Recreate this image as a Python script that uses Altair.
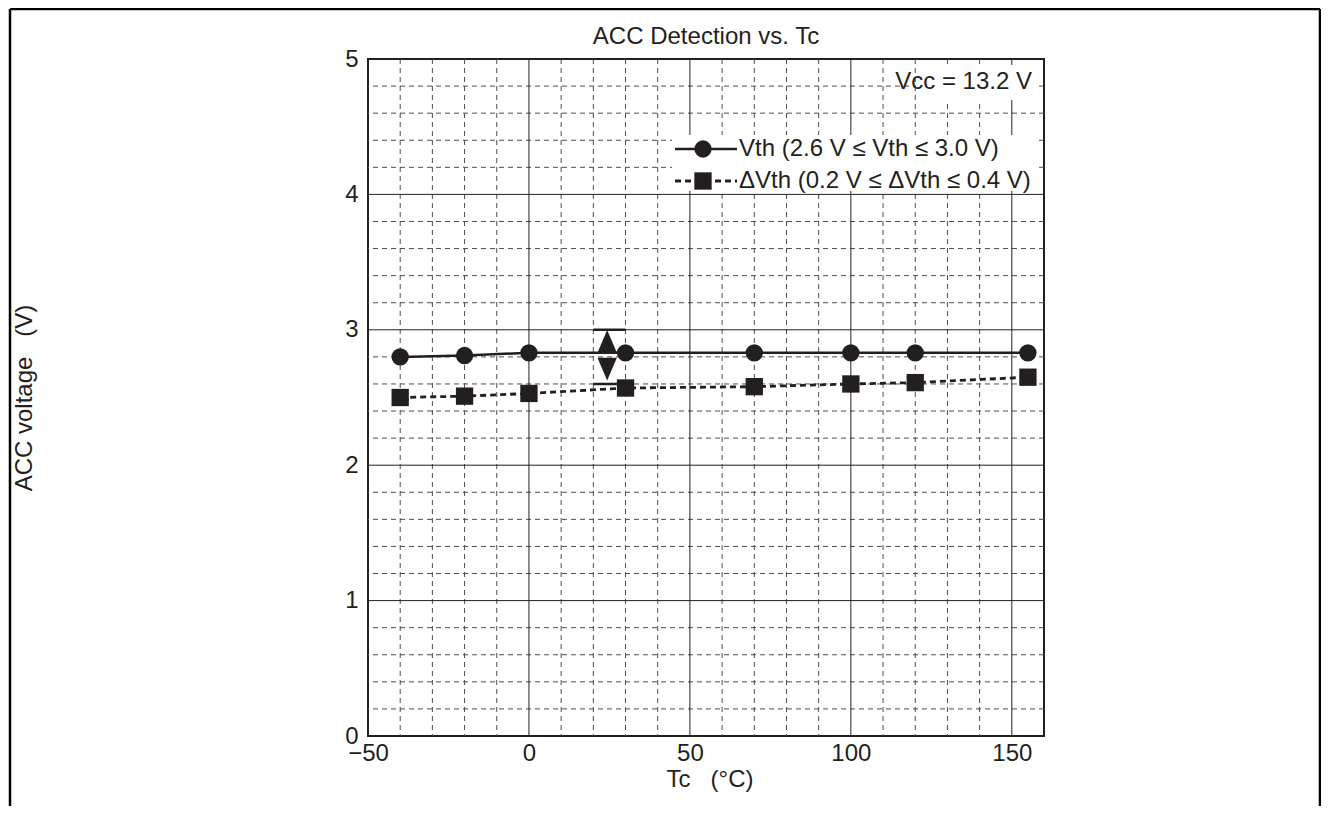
import altair as alt
import pandas as pd

# ---- data ----
tc_vth = [-40, -20, 0, 30, 70, 100, 120, 155]
vth = [2.80, 2.81, 2.83, 2.83, 2.83, 2.83, 2.83, 2.83]
tc_dvth = [-40, -20, 0, 30, 70, 100, 120, 155]
dvth = [2.50, 2.51, 2.53, 2.57, 2.58, 2.60, 2.61, 2.65]

x_ticks = [-50, 0, 50, 100, 150]
y_ticks = [0, 1, 2, 3, 4, 5]
x_major_grid = [0, 50, 100, 150]
x_minor_grid = [-40, -30, -20, -10, 10, 20, 30, 40, 60, 70, 80, 90, 110, 120, 130, 140]
y_major_grid = [1, 2, 3, 4]
y_minor_grid = [0.2, 0.4, 0.6, 0.8, 1.2, 1.4, 1.6, 1.8, 2.2, 2.4, 2.6, 2.8,
                3.2, 3.4, 3.6, 3.8, 4.2, 4.4, 4.6, 4.8]

bracket_x = [20, 30]
bracket_y = [3.0, 2.6]
arrow_x = [24.3, 24.3]
arrow_y = [2.915, 2.71]
arrow_dir = ["up", "down"]

FONT = "Liberation Sans"
INK = "#231f20"
W, H = 676, 677

xs = alt.Scale(domain=[-50, 160], nice=False, zero=False)
ys = alt.Scale(domain=[0, 5], nice=False, zero=False)

X_AX = alt.Axis(values=x_ticks, title=None, ticks=False, domain=False,
                grid=False, labelFont=FONT, labelFontSize=24, labelColor=INK,
                labelPadding=5, labelFlush=False)
Y_AX = alt.Axis(values=y_ticks, title=None, ticks=False, domain=False,
                grid=False, labelFont=FONT, labelFontSize=24, labelColor=INK,
                labelPadding=10, labelFlush=False)


def X(field):
    return alt.X(field, scale=xs, axis=X_AX)


def Y(field):
    return alt.Y(field, scale=ys, axis=Y_AX)


one = pd.DataFrame({"d": [0]})

# grid
g_xmin = alt.Chart(pd.DataFrame({"x": x_minor_grid})).mark_rule(
    stroke="#4d4d4d", strokeWidth=1, strokeDash=[5, 4]).encode(x=X("x:Q"))
g_ymin = alt.Chart(pd.DataFrame({"y": y_minor_grid})).mark_rule(
    stroke="#4d4d4d", strokeWidth=1, strokeDash=[5, 4]).encode(y=Y("y:Q"))
g_xmaj = alt.Chart(pd.DataFrame({"x": x_major_grid})).mark_rule(
    stroke=INK, strokeWidth=1).encode(x=X("x:Q"))
g_ymaj = alt.Chart(pd.DataFrame({"y": y_major_grid})).mark_rule(
    stroke=INK, strokeWidth=1).encode(y=Y("y:Q"))

# white boxes behind legend / note
box_leg = alt.Chart(one).mark_rect(fill="white").encode(
    x=alt.value(304), x2=alt.value(671), y=alt.value(76), y2=alt.value(132))
box_vcc = alt.Chart(one).mark_rect(fill="white").encode(
    x=alt.value(548), x2=alt.value(669), y=alt.value(6), y2=alt.value(41))

df_v = pd.DataFrame({"tc": tc_vth, "v": vth})
df_d = pd.DataFrame({"tc": tc_dvth, "v": dvth})

line_v = alt.Chart(df_v).mark_line(color=INK, strokeWidth=2.5).encode(
    x=X("tc:Q"), y=Y("v:Q"))
pts_v = alt.Chart(df_v).mark_point(shape="circle", filled=True, fill=INK,
                                   size=300, opacity=1).encode(
    x=X("tc:Q"), y=Y("v:Q"))

line_d = alt.Chart(df_d).mark_line(color=INK, strokeWidth=2.8,
                                   strokeDash=[6, 4]).encode(
    x=X("tc:Q"), y=Y("v:Q"))
pts_d = alt.Chart(df_d).mark_point(shape="square", filled=True, fill=INK,
                                   size=300, opacity=1).encode(
    x=X("tc:Q"), y=Y("v:Q"))

# annotation: bracket with double arrow
df_br = pd.DataFrame({"x1": [bracket_x[0]] * 2, "x2": [bracket_x[1]] * 2,
                      "y": bracket_y})
bars = alt.Chart(df_br).mark_rule(stroke=INK, strokeWidth=2.5).encode(
    x=X("x1:Q"), x2="x2:Q", y=Y("y:Q"))
df_ar = pd.DataFrame({"x": arrow_x, "y": arrow_y, "dir": arrow_dir})
tri_up = alt.Chart(df_ar).transform_filter("datum.dir == 'up'").mark_point(
    shape="M0,-1L0.85,1L-0.85,1Z", filled=True, fill=INK, size=520,
    opacity=1).encode(x=X("x:Q"), y=Y("y:Q"))
tri_dn = alt.Chart(df_ar).transform_filter("datum.dir == 'down'").mark_point(
    shape="M0,1L0.85,-1L-0.85,-1Z", filled=True, fill=INK, size=520,
    opacity=1).encode(x=X("x:Q"), y=Y("y:Q"))

# legend (drawn)
leg_line1 = alt.Chart(one).mark_rule(stroke=INK, strokeWidth=2.5).encode(
    x=alt.value(307), x2=alt.value(369), y=alt.value(90))
leg_pt1 = alt.Chart(one).mark_point(shape="circle", filled=True, fill=INK,
                                    size=300, opacity=1).encode(
    x=alt.value(335), y=alt.value(90))
leg_txt1 = alt.Chart(one).mark_text(
    text="Vth (2.6 V \u2264 Vth \u2264 3.0 V)", font=FONT, fontSize=24,
    color=INK, align="left", baseline="middle").encode(
    x=alt.value(371), y=alt.value(90))
leg_line2 = alt.Chart(one).mark_rule(stroke=INK, strokeWidth=2.8,
                                     strokeDash=[6, 4]).encode(
    x=alt.value(307), x2=alt.value(369), y=alt.value(122))
leg_pt2 = alt.Chart(one).mark_point(shape="square", filled=True, fill=INK,
                                    size=300, opacity=1).encode(
    x=alt.value(335), y=alt.value(122))
leg_txt2 = alt.Chart(one).mark_text(
    text="\u0394Vth (0.2 V \u2264 \u0394Vth \u2264 0.4 V)", font=FONT,
    fontSize=24, color=INK, align="left", baseline="middle").encode(
    x=alt.value(371), y=alt.value(122))

vcc = alt.Chart(one).mark_text(
    text="Vcc = 13.2 V", font=FONT, fontSize=24, color=INK, align="right",
    baseline="middle").encode(x=alt.value(664), y=alt.value(23))

title = alt.Chart(one).mark_text(
    text="ACC Detection vs. Tc", font=FONT, fontSize=24, color=INK,
    align="center", baseline="middle").encode(x=alt.value(338), y=alt.value(-22))
xtitle = alt.Chart(one).mark_text(
    text="Tc\u00a0\u00a0\u00a0(\u00b0C)", font=FONT, fontSize=24, color=INK,
    align="center", baseline="middle").encode(x=alt.value(342), y=alt.value(721))
ytitle = alt.Chart(one).mark_text(
    text="ACC voltage\u00a0\u00a0\u00a0(V)", font=FONT, fontSize=24,
    color=INK, align="center", baseline="middle", angle=270).encode(
    x=alt.value(-343), y=alt.value(339))

# outer frame
fr_l = alt.Chart(one).mark_rule(stroke="black", strokeWidth=2.5).encode(
    x=alt.value(-358), y=alt.value(-50), y2=alt.value(760))
fr_t = alt.Chart(one).mark_rule(stroke="black", strokeWidth=2.5).encode(
    x=alt.value(-358), x2=alt.value(952), y=alt.value(-50))
fr_r = alt.Chart(one).mark_rule(stroke="black", strokeWidth=2.5).encode(
    x=alt.value(952), y=alt.value(-50), y2=alt.value(760))

chart = alt.layer(
    g_xmin, g_ymin, g_xmaj, g_ymaj, box_leg, box_vcc,
    line_d, line_v, pts_d, pts_v, bars, tri_up, tri_dn,
    leg_line1, leg_pt1, leg_txt1, leg_line2, leg_pt2, leg_txt2, vcc,
    title, xtitle, ytitle, fr_l, fr_t, fr_r
).properties(
    width=W, height=H,
    autosize=alt.AutoSizeParams(type="none"),
    padding={"left": 360, "top": 51, "right": 277, "bottom": 70},
).configure_view(stroke=INK, strokeWidth=2)

chart.save("out.html", embed_options={"renderer": "svg", "actions": False})
